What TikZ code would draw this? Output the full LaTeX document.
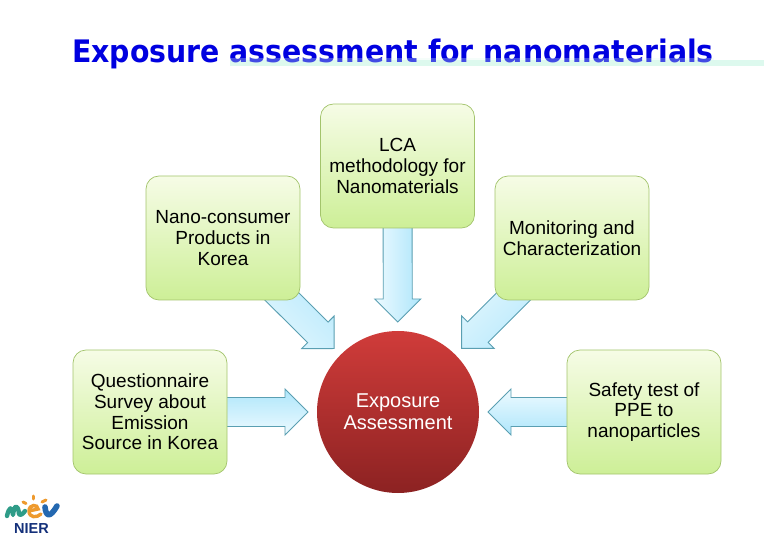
\documentclass[tikz,border=0pt]{standalone}
\usepackage{fontspec}
\setmainfont{Liberation Sans}
\newfontfamily\titlefont[FakeStretch=0.915]{DejaVu Sans}
\usetikzlibrary{calc}
\definecolor{boxedge}{HTML}{A3C46C}
\definecolor{boxtop}{HTML}{F6FCE6}
\definecolor{boxbot}{HTML}{CDEF97}
\definecolor{arredge}{HTML}{5A9FB2}
\definecolor{arrdark}{HTML}{AEE6FB}
\definecolor{arrlight}{HTML}{EDFAFF}
\definecolor{titleblue}{HTML}{0000E0}
\definecolor{band}{HTML}{DDF9EE}
\definecolor{logoteal}{HTML}{2F9C88}
\definecolor{logoorange}{HTML}{EE9A2E}
\definecolor{logoblue}{HTML}{2468B0}
\definecolor{logonavy}{HTML}{14307A}
\definecolor{hubtop}{HTML}{D03C3A}
\definecolor{hubbot}{HTML}{8C2222}
\tikzset{
  x=1pt,y=-1pt,
  infobox/.style={draw=boxedge,line width=0.7pt,rounded corners=13pt,
    top color=boxtop,bottom color=boxbot,minimum width=154pt,minimum height=124pt,
    inner sep=2pt,align=center,font=\fontsize{19}{20.6}\selectfont,text=black},
  hub/.style={circle,minimum size=162pt,inner sep=0pt,top color=hubtop,bottom color=hubbot,
    align=center,text=white,font=\fontsize{20}{22}\selectfont},
  blockarrow/.style={draw=arredge,line width=0.9pt,top color=arrdark,bottom color=arrlight},
  ray/.style={line width=3pt,line cap=round,logoorange}
}
% #1 source node, #2 hub node, #3 shading angle
\newcommand{\blockarr}[3]{%
  \coordinate (tip) at ($(#2)!90pt!(#1)$);
  \coordinate (neck) at ($(tip)!23pt!(#1)$);
  \path[blockarrow,shading angle=#3]
    ($(#1)!14.5pt!90:(tip)$) -- ($(neck)!14.5pt!-90:(#1)$) -- ($(neck)!23pt!-90:(#1)$)
    -- (tip) -- ($(neck)!23pt!90:(#1)$) -- ($(neck)!14.5pt!90:(#1)$)
    -- ($(#1)!14.5pt!-90:(tip)$) -- cycle;
}
\begin{document}
\begin{tikzpicture}
\useasboundingbox (0,0) rectangle (780,540);
% title
\fill[band] (230,60) rectangle (764,66);
\node[font=\titlefont\bfseries\fontsize{31}{32}\selectfont,text=titleblue,anchor=base] (title) at (393,62.5) {Exposure assessment for nanomaterials};
\fill[band,opacity=0.3] (230,58) rectangle (714,66);
% centres of the nodes
\path
  (397.5,166) coordinate (lcaC)
  (223,238) coordinate (nanoC)
  (572,238) coordinate (monC)
  (150,412) coordinate (queC)
  (644,412) coordinate (safC)
  (398,412) coordinate (hubC);
% arrows behind the boxes
\blockarr{lcaC}{hubC}{-90}
\blockarr{nanoC}{hubC}{-45}
\blockarr{monC}{hubC}{-135}
\blockarr{queC}{hubC}{0}
\blockarr{safC}{hubC}{180}
% boxes
\node[infobox] (lca) at (lcaC) {LCA\\methodology for\\Nanomaterials};
\node[infobox] (nano) at (nanoC) {Nano-consumer\\Products in\\Korea};
\node[infobox] (mon) at (monC) {Monitoring and\\Characterization};
\node[infobox] (que) at (queC) {Questionnaire\\Survey about\\Emission\\Source in Korea};
\node[infobox] (saf) at (safC) {Safety test of\\PPE to\\nanoparticles};
\node[hub] (hub) at (hubC) {Exposure\\Assessment};
% logo
\draw[logoteal,line width=4.4pt,line cap=round,line join=round]
  (7,516) .. controls (9,507) and (12,505) .. (13,515)
  .. controls (14,505) and (18,503) .. (19,514) .. controls (20,516) and (23,514) .. (25,511);
\draw[logoorange,line width=3.4pt,line cap=round]
  (29,511) -- (38,509) .. controls (38,504) and (29,504) .. (29,511)
  .. controls (29,518) and (37,518) .. (41,514);
\draw[logoblue,line width=5.6pt,line cap=round,line join=round]
  (45,507) .. controls (46,517) and (50,518) .. (57,506);
\draw[ray] (33,496) -- (33,499);
\draw[ray] (23,502) -- (26,503.5);
\draw[ray] (46,500) -- (42,502);
\node[font=\bfseries\fontsize{14.5}{15}\selectfont,text=logonavy,inner sep=0pt,anchor=base] (nier) at (31.5,533) {NIER};
\end{tikzpicture}
\end{document}
